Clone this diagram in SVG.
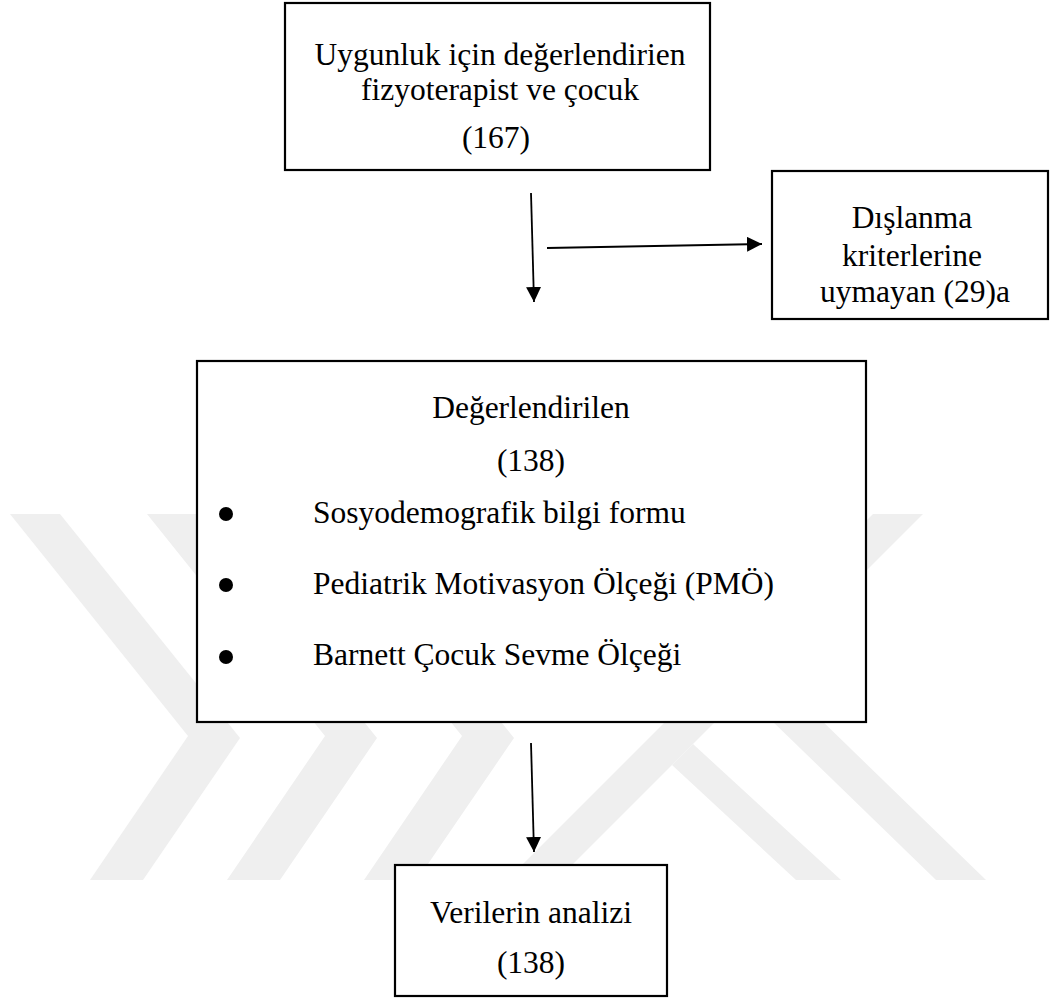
<svg xmlns="http://www.w3.org/2000/svg" width="1056" height="1001" viewBox="0 0 1056 1001">
  <style>
    .box { fill: #ffffff; stroke: #000000; stroke-width: 2.2; }
    .t { font-family: "Liberation Serif", "Times New Roman", serif; font-size: 31.5px; fill: #000000; }
    .c { text-anchor: middle; }
    .conn { stroke: #000000; stroke-width: 1.8; fill: none; marker-end: url(#ah); }
    .wm { fill: #efefef; }
  </style>
  <defs>
    <marker id="ah" viewBox="0 0 10 10" refX="10" refY="5" markerUnits="userSpaceOnUse" markerWidth="15" markerHeight="15" orient="auto">
      <path d="M0,0 L10,5 L0,10 z" fill="#000000"/>
    </marker>
  </defs>

  <g id="watermark">
    <polygon class="wm" points="10,514 60,514 240,738 143,880 90,880 188,736"/>
    <polygon class="wm" points="147,514 197,514 377,738 280,880 227,880 325,736"/>
    <polygon class="wm" points="284,514 334,514 514,738 417,880 364,880 462,736"/>
    <polygon class="wm" points="873,514 923,514 557,880 507,880"/>
    <polygon class="wm" points="693,744 841,880 796,880 672,765"/>
    <polygon class="wm" points="699,650 749,650 986,880 936,880"/>
  </g>

  <g id="node-uygunluk">
    <rect class="box" x="285" y="3" width="425" height="167"/>
    <text class="t c" x="500" y="65">Uygunluk için değerlendirien</text>
    <text class="t c" x="500" y="100">fizyoterapist ve çocuk</text>
    <text class="t c" x="496" y="148">(167)</text>
  </g>

  <g id="node-dislanma">
    <rect class="box" x="772" y="171" width="276" height="148"/>
    <text class="t c" x="912" y="228">Dışlanma</text>
    <text class="t c" x="912" y="266">kriterlerine</text>
    <text class="t c" x="915" y="302">uymayan (29)a</text>
  </g>

  <g id="node-degerlendirilen">
    <rect class="box" x="197" y="361" width="669" height="361"/>
    <text class="t c" x="531" y="418">Değerlendirilen</text>
    <text class="t c" x="531" y="471">(138)</text>
    <circle cx="226" cy="514" r="7"/>
    <circle cx="226" cy="585" r="7"/>
    <circle cx="226" cy="657" r="7"/>
    <text class="t" x="313" y="523">Sosyodemografik bilgi formu</text>
    <text class="t" x="313" y="594">Pediatrik Motivasyon Ölçeği (PMÖ)</text>
    <text class="t" x="313" y="665">Barnett Çocuk Sevme Ölçeği</text>
  </g>

  <g id="node-analiz">
    <rect class="box" x="395" y="865" width="272" height="131"/>
    <text class="t c" x="531" y="923">Verilerin analizi</text>
    <text class="t c" x="531" y="973">(138)</text>
  </g>

  <g id="connectors">
    <line class="conn" x1="531" y1="193" x2="534" y2="302"/>
    <line class="conn" x1="547" y1="248" x2="762" y2="244"/>
    <line class="conn" x1="531" y1="743" x2="534" y2="852"/>
  </g>
</svg>
